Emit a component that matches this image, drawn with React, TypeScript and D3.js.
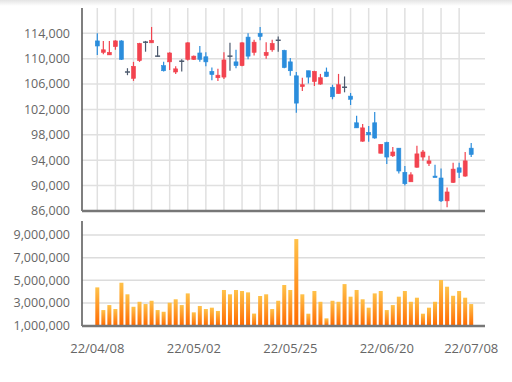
import React from "react";
import * as d3 from "d3";

const dates = [
  "22/04/08","22/04/11","22/04/12","22/04/13","22/04/14","22/04/15","22/04/18","22/04/19","22/04/20","22/04/21","22/04/22",
  "22/04/25","22/04/26","22/04/27","22/04/28","22/04/29",
  "22/05/02","22/05/03","22/05/04","22/05/06","22/05/09","22/05/10","22/05/11","22/05/12","22/05/13",
  "22/05/16","22/05/17","22/05/18","22/05/19","22/05/20","22/05/23","22/05/24","22/05/25","22/05/26","22/05/27",
  "22/05/30","22/05/31",
  "22/06/02","22/06/03","22/06/07","22/06/08","22/06/09","22/06/10","22/06/13","22/06/14","22/06/15","22/06/16","22/06/17",
  "22/06/20","22/06/21","22/06/22","22/06/23","22/06/24","22/06/27","22/06/28","22/06/29","22/06/30",
  "22/07/01","22/07/04","22/07/05","22/07/06","22/07/07","22/07/08"
];

const openP = [112800,111000,110600,111900,112800,107900,106900,109700,112600,112500,110400,108900,109500,107900,109600,109900,
  109900,110900,110300,108000,107000,107100,110400,109500,108900,113400,111000,114000,110500,111400,112900,111300,109500,107300,
  105600,108100,106400,106000,107900,105500,104500,105500,104100,99900,97000,98400,99900,95100,96800,94700,95900,92100,90600,
  92900,94500,93500,91500,91200,87600,90500,92800,91500,95900];
const highP = [114000,112800,112800,112900,112900,108500,109500,112500,112800,115000,112000,109500,111000,108800,109900,112600,
  110500,112000,111000,108600,108400,111000,112500,111400,112600,114000,113000,115000,112600,113000,113500,111400,110100,107900,
  107000,108100,108100,107600,108600,105900,107600,107200,104600,101000,99700,99400,101600,96500,96900,96100,95900,93100,92100,
  96300,95600,94700,93300,92700,89700,93600,93600,95300,96700];
const lowP = [110600,110700,110600,111400,109800,107400,106500,109500,111100,112500,110300,108000,108200,107600,108000,109700,
  109800,109500,108800,106600,106500,106800,108100,108500,108800,109900,110500,112900,110000,111100,111100,108500,107300,101500,
  104900,106100,105700,105900,107100,103600,104500,104700,102700,99100,96900,96900,97400,95100,93400,94500,91900,90000,90600,
  92800,93900,93100,91300,87400,86600,90400,91200,91400,94500];
const closeP = [112000,111400,111000,112800,109900,107900,108800,112400,112600,112900,110400,108100,110900,108400,109600,112500,
  110400,109900,109500,107500,107400,109800,110400,108900,112500,110400,112600,113500,111000,112400,112900,108600,108100,103000,
  105900,107100,108000,107000,107200,104000,105900,105500,103600,99100,99100,98000,97500,96500,94500,95300,92300,90300,91700,
  95000,95300,93900,91400,87600,89000,92600,92100,93900,94900];
const volume = [4380000,2380000,2820000,2470000,4790000,3770000,2670000,3110000,2910000,3200000,2380000,2230000,3030000,3330000,
  2820000,3850000,2180000,2740000,2470000,2590000,2300000,4150000,3770000,4150000,4060000,3940000,2070000,3620000,3770000,2470000,
  3200000,4590000,4150000,8640000,3770000,2060000,4060000,3110000,1650000,3200000,3110000,4670000,3560000,4150000,3330000,2590000,
  3850000,4060000,2380000,2820000,3560000,4060000,3110000,3470000,2060000,2590000,3110000,5030000,4440000,3640000,4060000,3470000,2910000];

const priceTicks = [86000, 90000, 94000, 98000, 102000, 106000, 110000, 114000];
const volumeTicks = [1000000, 3000000, 5000000, 7000000, 9000000];
const dateTicks = ["22/04/08", "22/05/02", "22/05/25", "22/06/20", "22/07/08"];

const UP = "#f2434f";
const DOWN = "#2b8ddc";
const FLAT = "#4d5a6e";

export default function App() {
  const left = 82, right = 485;
  const x = d3.scaleLinear().domain([0, dates.length - 1]).range([97.3, 471.2]);
  const y = d3.scaleLinear().domain([86000, 114000]).range([211, 33.3]);
  const yv = d3.scaleLinear().domain([1000000, 9000000]).range([325.7, 235]);
  const fmt = d3.format(",");
  const idx = dates.map((_, i) => i);
  const gridIdx = idx.filter((i) => i % 3 === 0 && i <= 60);
  const bw = 4;

  return (
    <svg width={512} height={382} style={{ position: "absolute", left: 0, top: 0, background: "#fff" }}
      fontFamily="'Open Sans', sans-serif">
      <defs>
        <linearGradient id="vol" x1="0" y1="0" x2="0" y2="1">
          <stop offset="0" stopColor="#ffc24a" />
          <stop offset="1" stopColor="#ff6a00" />
        </linearGradient>
        <linearGradient id="topShade" x1="0" y1="0" x2="0" y2="1">
          <stop offset="0" stopColor="#e4e4e4" />
          <stop offset="1" stopColor="#ffffff" />
        </linearGradient>
      </defs>
      <rect x={0} y={0} width={512} height={6} fill="url(#topShade)" />

      {/* price grid */}
      {priceTicks.slice(1).map((t) => (
        <line key={"h" + t} x1={left} x2={right} y1={y(t)} y2={y(t)} stroke="#e0e0e0" strokeWidth={1.5} />
      ))}
      {gridIdx.map((i) => (
        <line key={"v" + i} x1={x(i)} x2={x(i)} y1={8} y2={211} stroke="#e0e0e0" strokeWidth={1.5} />
      ))}
      {priceTicks.map((t) => (
        <text key={"pt" + t} x={70} y={y(t)} dy="0.35em" textAnchor="end" fontSize={12.5} fill="#666">{fmt(t)}</text>
      ))}

      {/* candles */}
      {idx.map((i) => {
        const o = openP[i], c = closeP[i];
        const col = c > o ? UP : c < o ? DOWN : FLAT;
        const top = y(Math.max(o, c));
        const h = Math.max(1.5, y(Math.min(o, c)) - top);
        const cx = x(i);
        return (
          <g key={"c" + i}>
            <line x1={cx} x2={cx} y1={y(highP[i])} y2={y(lowP[i])} stroke={col} strokeWidth={1.2} />
            {c === o ? (
              <line x1={cx - bw / 2 - 0.5} x2={cx + bw / 2 + 0.5} y1={top} y2={top} stroke={col} strokeWidth={1.5} />
            ) : (
              <rect x={cx - bw / 2} y={top} width={bw} height={h} fill={col} stroke={col} strokeWidth={0.6} />
            )}
          </g>
        );
      })}

      <line x1={left} x2={left} y1={8} y2={211} stroke="#555" strokeWidth={1.5} />
      <line x1={left} x2={right} y1={211} y2={211} stroke="#777" strokeWidth={2.5} />

      {/* volume */}
      {volumeTicks.slice(1).map((t) => (
        <line key={"vh" + t} x1={left} x2={right} y1={yv(t)} y2={yv(t)} stroke="#dcdcdc" strokeWidth={1.5} />
      ))}
      {volumeTicks.map((t) => (
        <text key={"vt" + t} x={70} y={yv(t)} dy="0.35em" textAnchor="end" fontSize={12.5} fill="#666">{fmt(t)}</text>
      ))}
      {idx.map((i) => (
        <rect key={"vb" + i} x={x(i) - 2} y={yv(volume[i])} width={4} height={yv(1000000) - yv(volume[i])} fill="url(#vol)" />
      ))}
      <line x1={left} x2={left} y1={221} y2={326} stroke="#555" strokeWidth={1.5} />
      <line x1={left} x2={right} y1={326} y2={326} stroke="#777" strokeWidth={2.5} />

      {dateTicks.map((d) => (
        <text key={"dt" + d} x={x(dates.indexOf(d))} y={348} dy="0.35em" textAnchor="middle" fontSize={13} fill="#666">{d}</text>
      ))}
    </svg>
  );
}
